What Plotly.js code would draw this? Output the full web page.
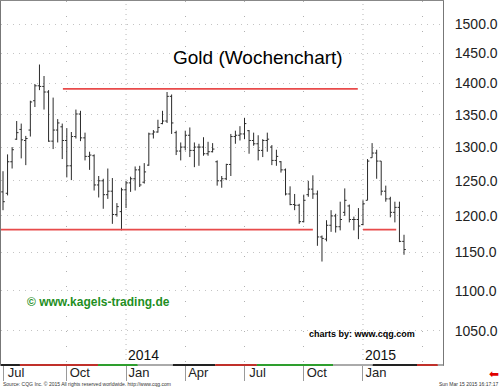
<!DOCTYPE html>
<html><head><meta charset="utf-8">
<script src="https://cdn.plot.ly/plotly-3.0.1.min.js"></script>
<style>html,body{margin:0;padding:0;background:#fff;}#chart{width:500px;height:388px;}</style>
</head><body><div id="chart"></div>
<script>
const weekDates = [
'2013-07-01','2013-07-08','2013-07-15','2013-07-22','2013-07-29','2013-08-05','2013-08-12','2013-08-19','2013-08-26','2013-09-02',
'2013-09-09','2013-09-16','2013-09-23','2013-09-30','2013-10-07','2013-10-14','2013-10-21','2013-10-28','2013-11-04','2013-11-11',
'2013-11-18','2013-11-25','2013-12-02','2013-12-09','2013-12-16','2013-12-23','2013-12-30','2014-01-06','2014-01-13','2014-01-20',
'2014-01-27','2014-02-03','2014-02-10','2014-02-17','2014-02-24','2014-03-03','2014-03-10','2014-03-17','2014-03-24','2014-03-31',
'2014-04-07','2014-04-14','2014-04-21','2014-04-28','2014-05-05','2014-05-12','2014-05-19','2014-05-26','2014-06-02','2014-06-09',
'2014-06-16','2014-06-23','2014-06-30','2014-07-07','2014-07-14','2014-07-21','2014-07-28','2014-08-04','2014-08-11','2014-08-18',
'2014-08-25','2014-09-01','2014-09-08','2014-09-15','2014-09-22','2014-09-29','2014-10-06','2014-10-13','2014-10-20','2014-10-27',
'2014-11-03','2014-11-10','2014-11-17','2014-11-24','2014-12-01','2014-12-08','2014-12-15','2014-12-22','2014-12-29','2015-01-05',
'2015-01-12','2015-01-19','2015-01-26','2015-02-02','2015-02-09','2015-02-16','2015-02-23','2015-03-02','2015-03-09'];
const opens = [1234,1232,1278,1312,1327,1310,1326,1372,1396,1395, 1386,1309,1326,1331,1310,1272,1316,1351,1314,1286,
1287,1244,1250,1230,1235,1202,1206,1237,1247,1253, 1266,1248,1273,1320,1323,1336,1340,1379,1322,1294,
1300,1318,1295,1300,1300,1290,1293,1278,1250,1253, 1274,1316,1318,1320,1325,1310,1305,1295,1310,1300,
1280,1278,1266,1231,1216,1215,1192,1230,1238,1231, 1171,1168,1187,1200,1185,1205,1214,1195,1195,1188,
1222,1284,1291,1279,1235,1224,1205,1212,1165];
const highs = [1264,1289,1300,1340,1336,1317,1372,1399,1431,1412, 1389,1377,1343,1336,1329,1323,1358,1356,1322,1293,
1289,1257,1253,1268,1254,1218,1240,1250,1256,1271, 1272,1276,1322,1326,1342,1356,1386,1382,1325,1307,
1325,1330,1307,1305,1315,1308,1306,1280,1257,1275, 1320,1325,1332,1345,1326,1322,1318,1312,1322,1303,
1296,1279,1268,1242,1231,1217,1230,1250,1258,1236, 1173,1194,1208,1203,1220,1239,1216,1199,1211,1222,
1282,1306,1296,1279,1243,1227,1220,1220,1174];
const lows = [1208,1229,1268,1311,1283,1273,1316,1362,1389,1358, 1308,1297,1307,1282,1255,1251,1313,1309,1280,1266,
1236,1226,1210,1224,1189,1199,1180,1211,1234,1236, 1241,1246,1272,1313,1322,1335,1337,1320,1288,1280,
1295,1285,1270,1272,1287,1287,1292,1243,1240,1251, 1257,1305,1310,1312,1290,1302,1280,1285,1293,1273,
1272,1262,1229,1215,1208,1189,1191,1227,1224,1159, 1138,1165,1178,1177,1180,1200,1191,1180,1168,1187,
1222,1284,1253,1229,1220,1198,1191,1164,1147];
const closes = [1220,1278,1296,1322,1311,1313,1370,1396,1395,1386, 1309,1326,1337,1310,1272,1316,1351,1314,1286,1288,
1244,1250,1230,1235,1202,1213,1237,1247,1253,1266, 1244,1263,1320,1323,1330,1340,1379,1337,1294,1300,
1318,1295,1300,1300,1290,1293,1297,1250,1253,1274, 1316,1318,1320,1336,1310,1305,1295,1310,1312,1280,
1286,1266,1231,1216,1215,1192,1222,1238,1231,1171, 1169,1187,1200,1185,1195,1222,1195,1195,1186,1217,
1279,1291,1279,1235,1224,1205,1212,1165,1154];

const yTicks = [1050,1100,1150,1200,1250,1300,1350,1400,1450,1500];
const xTickDates = ['2013-07-01','2013-10-07','2014-01-06','2014-04-07','2014-07-07','2014-10-06','2015-01-05'];
const xTickLabels = ['Jul','Oct','Jan','Apr','Jul','Oct','Jan'];
const quarterGridDates = ['2013-10-07','2014-04-07','2014-07-07','2014-10-06','2015-04-06'];
const yearStartDates = ['2014-01-06','2015-01-05'];
const yearLabels = ['2014','2015'];

const levelStarts = ['2013-10-01','2013-06-20','2015-01-05'];
const levelEnds = ['2014-12-28','2014-10-20','2015-02-25'];
const levelValues = [1391,1181,1181];

const bandStarts = ['2013-06-20','2013-07-27','2013-11-24','2014-01-24','2014-03-19','2014-05-23','2014-07-26','2014-11-20','2015-01-20','2015-03-29','2015-04-30'];
const bandEnds   = ['2013-07-27','2013-11-24','2014-01-24','2014-03-19','2014-05-23','2014-07-26','2014-11-20','2015-01-20','2015-03-29','2015-04-30','2015-05-10'];
const bandColors = ['#222222','#c0302a','#2e9e2e','#aaaaaa','#222222','#c0302a','#2e9e2e','#aaaaaa','#222222','#c0302a','#aaaaaa'];

const FONT = 'Arial, "Liberation Sans", sans-serif';

const shapes = [];
yearStartDates.forEach(d => shapes.push({type:'line', xref:'x', yref:'paper', x0:d, x1:d, y0:0, y1:1,
  line:{color:'#b8b8b8', width:1, dash:'1px,4px'}, layer:'below'}));
levelValues.forEach((v,i) => shapes.push({type:'line', xref:'x', yref:'y', x0:levelStarts[i], x1:levelEnds[i], y0:v, y1:v,
  line:{color:'#e84a4a', width:1.6}, layer:'above'}));
bandColors.forEach((c,i) => shapes.push({type:'line', xref:'x', yref:'paper', x0:bandStarts[i], x1:bandEnds[i], y0:0, y1:0,
  line:{color:c, width:2}, layer:'above'}));

const annotations = [
  {text:'Gold (Wochenchart)', xref:'paper', yref:'paper', x:0.582, y:0.879, showarrow:false,
   font:{family:FONT, size:19, color:'#000'}},
  {text:'© www.kagels-trading.de', xref:'paper', yref:'paper', x:0.054, y:0.173, xanchor:'left', yanchor:'middle', showarrow:false,
   font:{family:FONT, size:12, color:'#1f8f1f', weight:'bold'}},
  {text:'charts by: www.cqg.com', xref:'paper', yref:'paper', x:0.692, y:0.085, xanchor:'left', yanchor:'middle', showarrow:false,
   font:{family:FONT, size:9, color:'#000', weight:'bold'}},
  {text:'Source: CQG Inc. © 2015 All rights reserved worldwide. http://www.cqg.com', xref:'paper', yref:'paper', x:0.0, y:-0.052,
   xanchor:'left', yanchor:'middle', showarrow:false, font:{family:FONT, size:5, color:'#333'}},
  {text:'Sun Mar 15 2015 16:17:17', xref:'paper', yref:'paper', x:1.129, y:-0.052,
   xanchor:'right', yanchor:'middle', showarrow:false, font:{family:FONT, size:5, color:'#333'}},
  {text:'⬅', xref:'paper', yref:'paper', x:1.116, y:-0.0247, xanchor:'center', yanchor:'middle', showarrow:false,
   font:{family:'DejaVu Sans', size:12, color:'#e00000'}}
];
yearLabels.forEach((t,i) => annotations.push({text:t, xref:'x', yref:'paper', x:yearStartDates[i], y:0, xanchor:'left', yanchor:'bottom',
  showarrow:false, font:{family:FONT, size:14, color:'#111'}}));

const trace = {
  type:'ohlc', x:weekDates, open:opens, high:highs, low:lows, close:closes,
  increasing:{line:{color:'#2b2b2b', width:1}}, decreasing:{line:{color:'#2b2b2b', width:1}},
  tickwidth:0.4, hoverinfo:'skip', showlegend:false
};

const layout = {
  width:500, height:388,
  margin:{l:1, r:57, t:1, b:23, pad:0},
  paper_bgcolor:'#ffffff', plot_bgcolor:'#ffffff',
  showlegend:false,
  xaxis:{
    type:'date', range:['2013-06-27 22:00','2015-05-07 22:00'],
    tickmode:'array', tickvals:xTickDates, ticktext:xTickLabels,
    ticks:'outside', ticklen:15, tickcolor:'#9a9a9a', tickwidth:1,
    tickfont:{family:FONT, size:13, color:'#222'},
    ticklabelshift:13, ticklabelstandoff:-20,
    showgrid:false,
    minor:{tickmode:'array', tickvals:quarterGridDates, showgrid:true, gridcolor:'#b0b0b0', griddash:'1px,14px', ticks:''},
    showline:true, mirror:true, linecolor:'#888', linewidth:1,
    zeroline:false, rangeslider:{visible:false}, fixedrange:true
  },
  yaxis:{
    type:'log', side:'right', range:[3.003891, 3.187718],
    tickmode:'array', tickvals:yTicks, ticktext:yTicks.map(v => v.toFixed(1)),
    ticks:'', ticklabelstandoff:8,
    tickfont:{family:FONT, size:14, color:'#222'},
    showgrid:true, gridcolor:'#c4c4c4', griddash:'1px,5px', gridwidth:1,
    showline:true, mirror:true, linecolor:'#777', linewidth:1,
    zeroline:false, fixedrange:true
  },
  shapes:shapes,
  annotations:annotations
};

Plotly.newPlot('chart', [trace], layout, {staticPlot:true, displayModeBar:false});
</script>
</body></html>
